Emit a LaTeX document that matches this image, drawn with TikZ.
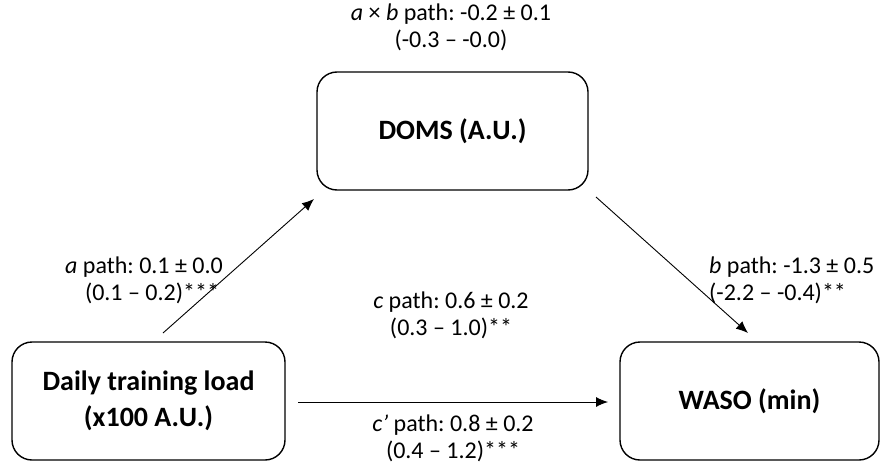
\documentclass[tikz,border=0pt]{standalone}
\usepackage{fontspec}
\setmainfont{Carlito}
\usetikzlibrary{arrows.meta}
\frenchspacing
\begin{document}
\begin{tikzpicture}[x=1pt,y=-1pt,
  box/.style={draw,line width=1.4pt,rounded corners=20pt,minimum width=#1,minimum height=118pt,inner sep=0pt,align=center,font=\fontsize{28}{36}\selectfont\bfseries},
  conn/.style={line width=0.9pt,-{Latex[length=12pt,width=10pt]}},
  lbl/.style={inner sep=0pt,font=\fontsize{24}{27}\selectfont}]
\useasboundingbox (0,0) rectangle (881,463);
\node[box=271pt] (doms) at (452.5,131) {DOMS (A.U.)};
\node[box=273pt] (daily) at (148.5,401) {Daily training load\\(x100 A.U.)};
\node[box=259pt] (waso) at (749.5,401) {WASO (min)};
\coordinate (aS) at (163,333);
\coordinate (aE) at (314,199);
\coordinate (bS) at (596,197);
\coordinate (bE) at (748,333);
\coordinate (cS) at (298,402);
\coordinate (cE) at (608,402);
\draw[conn] (aS) -- (aE);
\draw[conn] (bS) -- (bE);
\draw[conn] (cS) -- (cE);
\node[lbl,align=center] (ab) at (451,27) {\textit{a} × \textit{b} path: -0.2 ± 0.1\\(-0.3 – -0.0)};
\node[lbl,align=center] (al) at (144,280) {\textit{a} path: 0.1 ± 0.0\\ \,\,\,\,(0.1 – 0.2)***};
\node[lbl,align=left,anchor=west] (bl) at (709,280) {\textit{b} path: -1.3 ± 0.5\\(-2.2 – -0.4)**};
\node[lbl,align=center] (cl) at (451,315) {\textit{c} path: 0.6 ± 0.2\\(0.3 – 1.0)**};
\node[lbl,align=center] (cpl) at (453,438) {\textit{c’} path: 0.8 ± 0.2\\(0.4 – 1.2)***};
\end{tikzpicture}
\end{document}
